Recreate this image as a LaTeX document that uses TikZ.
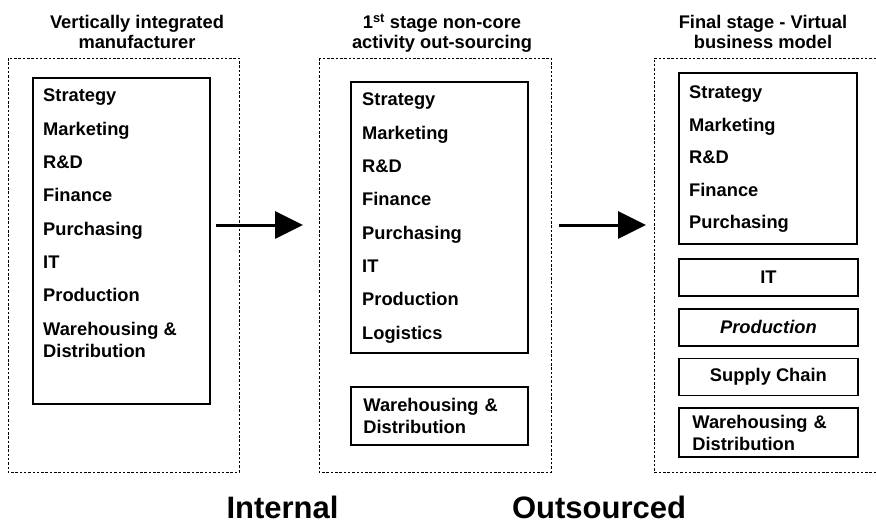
\documentclass[tikz,border=0pt]{standalone}
\usepackage{fontspec}
\setmainfont{Liberation Sans}
\usepackage{tikz}
\usetikzlibrary{positioning, arrows.meta}
\newcommand{\itemfont}{\bfseries\fontsize{18.3}{22.5}\selectfont}
\newcommand{\titlefont}{\bfseries\fontsize{18.3}{20}\selectfont}
\newcommand{\itemgap}{10.8pt}

\begin{document}
\begin{tikzpicture}[x=1pt, y=-1pt,
  dotbox/.style={draw, line width=0.8pt, dash pattern=on 2.5pt off 1.8pt},
  solidbox/.style={draw, line width=1.8pt, inner sep=0pt, anchor=north west},
  smallbox/.style={solidbox, minimum width=179pt, minimum height=37pt, font=\itemfont},
  wdbox/.style={smallbox, align=left, text width=152pt},
  items/.style={anchor=north west, inner sep=0pt, align=left, font=\itemfont},
  title/.style={anchor=north, inner sep=0pt, align=center, font=\titlefont},
  flow/.style={line width=3pt, -{Triangle[length=28pt, width=27pt]}},
  side/.style={anchor=base, inner sep=0pt, font=\bfseries\fontsize{31}{34}\selectfont}
]
\useasboundingbox (0,0) rectangle (876,523);
% stage frames
\draw[dotbox] (8,58) rectangle (239,472);
\draw[dotbox] (319,58) rectangle (551,472);
\draw[dotbox] (876,58) -- (654,58) -- (654,472) -- (876,472);
% stage titles
\node[title] (tvert) at (137,15) {Vertically integrated\\manufacturer};
\node[title] (tfirst) at (442,14) {1\textsuperscript{st} stage non-core\\activity out-sourcing};
\node[title] (tfinal) at (763,15) {Final stage - Virtual\\business model};
% vertically integrated
\node[solidbox, minimum width=177pt, minimum height=326pt] (lcore) at (32,77) {};
\node[items] (litems) at (43,89) {Strategy\\[\itemgap] Marketing\\[\itemgap] R\&D\\[\itemgap] Finance\\[\itemgap]
  Purchasing\\[\itemgap] IT\\[\itemgap] Production\\[\itemgap] Warehousing \&\\ Distribution};
% first stage
\node[solidbox, minimum width=177pt, minimum height=271pt] (mcore) at (350,81) {};
\node[items] (mitems) at (362,93) {Strategy\\[\itemgap] Marketing\\[\itemgap] R\&D\\[\itemgap] Finance\\[\itemgap]
  Purchasing\\[\itemgap] IT\\[\itemgap] Production\\[\itemgap] Logistics};
\node[wdbox, minimum width=177pt, minimum height=58pt] (mwd) at (350,386) {Warehousing \&\\ Distribution};
% final stage
\node[solidbox, minimum width=178pt, minimum height=171pt] (rcore) at (678,72) {};
\node[items] (ritems) at (689,86) {Strategy\\[10pt] Marketing\\[10pt] R\&D\\[10pt] Finance\\[10pt] Purchasing};
\node[smallbox] (rit) at (678,258) {IT};
\node[smallbox, below=11pt of rit] (rprod) {\itshape Production};
\node[smallbox, below=11pt of rprod] (rsupply) {Supply Chain};
\node[wdbox, minimum height=49pt, below=11pt of rsupply] (rwd) {Warehousing \&\\ Distribution};
% arrows between stages
\coordinate (a1s) at (216,225);
\coordinate (a1e) at (303,225);
\coordinate (a2s) at (559,225);
\coordinate (a2e) at (646,225);
\draw[flow] (a1s) -- (a1e);
\draw[flow] (a2s) -- (a2e);
% bottom labels
\node[side] (internal) at (282.5,518) {Internal};
\node[side] (outsourced) at (599,518) {Outsourced};
\end{tikzpicture}
\end{document}
